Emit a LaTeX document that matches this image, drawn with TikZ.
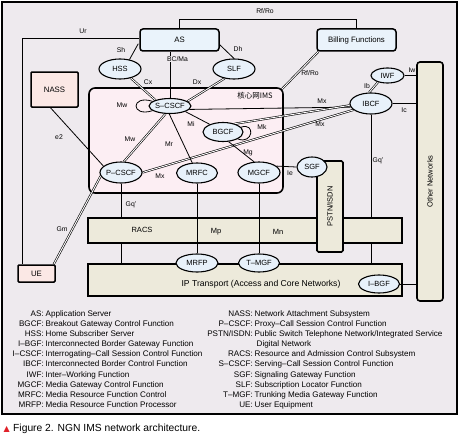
\documentclass[tikz,border=0pt]{standalone}
\usepackage{fontspec}
\setmainfont{Liberation Sans}
\newfontfamily\cjkfont{Noto Sans CJK SC}
\newfontfamily\dejavufont{DejaVu Sans}
\usetikzlibrary{shapes.geometric,calc}
\pgfdeclarelayer{bglayer}
\pgfdeclarelayer{edgelayer}
\pgfsetlayers{bglayer,edgelayer,main}
\definecolor{framebg}{HTML}{EEEAEE}
\definecolor{corefill}{HTML}{FCEEF3}
\definecolor{ellfill}{HTML}{E8F1FA}
\definecolor{bluebox}{HTML}{EAF3FB}
\definecolor{pinkbox}{HTML}{FBE8E5}
\definecolor{beige}{HTML}{EDEADB}
\definecolor{capred}{HTML}{E02028}
\newcommand\lgrow[5]{%
  \node[legt, anchor=base east] (#1k) at (#2,#3) {#4:};
  \node[legt, anchor=base west] (#1d) at (#2+1.5,#3) {#5};}
\begin{document}
\begin{tikzpicture}[x=1pt,y=-1pt,
  ell/.style={ellipse, draw, line width=1.1pt, fill=ellfill, inner sep=0pt, font=\fontsize{7.5}{8}\selectfont},
  rbox/.style={draw, line width=1.5pt, rounded corners=3pt, inner sep=0pt, font=\fontsize{7.8}{9}\selectfont},
  bar/.style={draw, line width=1.6pt, fill=beige, inner sep=0pt, font=\fontsize{7.5}{9}\selectfont},
  lbl/.style={font=\fontsize{6.8}{7}\selectfont, inner sep=0.5pt},
  conn/.style={line width=0.8pt},
  dbl/.style={double=white, double distance=0.9pt, line width=0.6pt},
  legt/.style={font=\fontsize{8.1}{9}\selectfont, inner sep=0pt}]
\useasboundingbox (0,0) rectangle (460,436);

\begin{pgfonlayer}{bglayer}
  \node[draw, line width=2pt, fill=framebg, minimum width=455pt, minimum height=412pt, inner sep=0pt] (frame) at (229.5,208) {};
  \node[draw, line width=1.6pt, rounded corners=6pt, fill=corefill, minimum width=194pt, minimum height=105pt, inner sep=0pt] (core) at (186,140.5) {};
  \node[bar, minimum width=314pt, minimum height=25pt] (RACS) at (245,230.5) {};
  \node[bar, rounded corners=1.5pt, rotate=90, minimum width=91pt, minimum height=26pt] (PSTN) at (330,206.5) {PSTN/ISDN};
  \node[bar, minimum width=314pt, minimum height=32pt] (IP) at (245,280) {};
  \node[bar, rounded corners=3pt, rotate=90, minimum width=239pt, minimum height=26pt] (Other) at (430,181.5) {Other Networks};
\end{pgfonlayer}

% main nodes
\node[rbox, fill=bluebox, minimum width=79pt, minimum height=22pt] (AS) at (179.5,40) {AS};
\node[rbox, fill=bluebox, minimum width=79pt, minimum height=22pt] (Bill) at (356.5,40) {Billing Functions};
\node[rbox, rounded corners=1pt, fill=pinkbox, minimum width=47pt, minimum height=35pt] (NASS) at (54.5,89.5) {NASS};
\node[rbox, rounded corners=1pt, fill=pinkbox, minimum width=37pt, minimum height=17pt] (UE) at (36.5,273.5) {UE};
\node[ell, minimum width=42pt, minimum height=20pt] (HSS) at (120,69) {HSS};
\node[ell, minimum width=42pt, minimum height=20pt] (SLF) at (234,69) {SLF};
\node[ell, minimum width=41pt, minimum height=15pt] (SC) at (170,106) {S--CSCF};
\node[ell, minimum width=40pt, minimum height=19pt] (BGCF) at (223,132) {BGCF};
\node[ell, minimum width=42pt, minimum height=21pt] (IBCF) at (371,103.5) {IBCF};
\node[ell, minimum width=33pt, minimum height=15pt] (IWF) at (387.5,75.5) {IWF};
\node[ell, minimum width=42pt, minimum height=21pt] (PC) at (121,172.5) {P--CSCF};
\node[ell, minimum width=41pt, minimum height=20pt] (MRFC) at (197,173) {MRFC};
\node[ell, minimum width=42pt, minimum height=21pt] (MGCF) at (259,172.5) {MGCF};
\node[ell, minimum width=30pt, minimum height=20pt] (SGF) at (312,167) {SGF};
\node[ell, minimum width=42pt, minimum height=18pt] (MRFP) at (197,263) {MRFP};
\node[ell, minimum width=41pt, minimum height=18pt] (TMGF) at (259,263) {T--MGF};
\node[ell, minimum width=41pt, minimum height=18pt] (IBGF) at (379,284) {I--BGF};

% texts in regions
\node[font=\cjkfont\fontsize{7.5}{8}\selectfont, inner sep=0pt] (coretxt) at (255,95.5) {核心网IMS};
\node[lbl, font=\fontsize{7.5}{8}\selectfont] (racstxt) at (142,230) {RACS};
\node[font=\fontsize{8.6}{9}\selectfont, inner sep=0pt] (iptxt) at (261,284) {IP Transport (Access and Core Networks)};

% connectors
\begin{pgfonlayer}{edgelayer}
  \coordinate (rfy) at (0,19);
  \draw[conn] (AS.north) -- (AS.north |- rfy) -- (Bill.north |- rfy) -- (Bill.north);
  \draw[conn] ($(AS.west)+(0,-2)$) -| ($(UE.north west)+(5,0)$);
  \draw[conn] ($(AS.south west)+(-1,-8)$) -- (HSS.45);
  \draw[conn] ($(AS.south east)+(0,-7)$) -- (SLF.north);
  \draw[conn] (SC.north) -- (SC.north |- AS.south);
  \draw[dbl] (HSS.-40) -- (SC.158);
  \draw[dbl] (SLF.225) -- (SC.15);
  \draw[dbl] ($(Bill.south west)+(2,0)$) -- ($(core.north east)+(-2,2)$);
  \draw[conn] (SC.165) .. controls +(-22,-7) and +(-22,7) .. (SC.195);
  \draw[conn] (SC.-10) -- (IBCF.190);
  \draw[dbl] (BGCF.35) -- (IBCF.185);
  \draw[dbl] (PC.east) -- (IBCF.200);
  \draw[conn] (SC.-20) -- (BGCF.150);
  \draw[conn] (SC.-95) -- (MRFC.115);
  \draw[dbl] (SC.-120) -- (PC.75);
  \draw[conn] (BGCF.15) .. controls +(15,-5) and +(15,6) .. (BGCF.-25);
  \draw[conn] (BGCF.-60) -- (MGCF.115);
  \draw[conn] (MGCF.20) -- (SGF.west);
  \draw[dbl] (IWF.-145) -- (IBCF.100);
  \draw[conn] (IWF.east) -- (IWF.east -| Other.north);
  \draw[conn] (IBCF.east) -- (IBCF.east -| Other.north);
  \draw[conn] (IBCF.south) -- (IBCF.south |- RACS.north);
  \draw[conn] (IBCF.south |- RACS.south) -- (IBCF.south |- IP.north);
  \draw[conn] (PC.south) -- (PC.south |- RACS.north);
  \draw[conn] (PC.south |- RACS.south) -- (PC.south |- IP.north);
  \draw[conn] (MRFC.south) -- (MRFP.north);
  \draw[conn] (MGCF.south) -- (TMGF.north);
  \draw[conn] (IBGF.east) -- (IBGF.east -| Other.north);
  \draw[dbl] ($(UE.north east)+(-2,0)$) -- (PC.190);
  \draw[conn] ($(NASS.south)+(-4,0)$) -- (PC.160);
\end{pgfonlayer}

% connector labels
\node[lbl] (lUr) at (83,31) {Ur};
\node[lbl] (lRf1) at (265,11) {Rf/Ro};
\node[lbl] (lSh) at (121,50) {Sh};
\node[lbl, fill=framebg] (lBC) at (177.5,59) {BC/Ma};
\node[lbl] (lDh) at (238,49) {Dh};
\node[lbl] (lCx) at (148,82) {Cx};
\node[lbl] (lDx) at (197,82) {Dx};
\node[lbl] (lMw1) at (122,105) {Mw};
\node[lbl] (lRf2) at (310,73) {Rf/Ro};
\node[lbl] (lMx1) at (322,101) {Mx};
\node[lbl] (lMx2) at (320,124) {Mx};
\node[lbl] (lIb) at (367,86) {Ib};
\node[lbl] (lIw) at (412,70) {Iw};
\node[lbl] (lIc) at (404,110) {Ic};
\node[lbl] (lMi) at (191,124) {Mi};
\node[lbl] (lMk) at (262,127) {Mk};
\node[lbl] (lMw2) at (130,139) {Mw};
\node[lbl] (lMr) at (169,144) {Mr};
\node[lbl] (le2) at (59,137) {e2};
\node[lbl] (lMx3) at (160,176) {Mx};
\node[lbl] (lMg) at (248,153) {Mg};
\node[lbl] (lIe) at (290,173) {Ie};
\node[lbl] (lGq1) at (131,205) {Gq'};
\node[lbl] (lGq2) at (378,161) {Gq'};
\node[lbl] (lGm) at (62,229) {Gm};
\node[lbl, font=\fontsize{7.5}{8}\selectfont] (lMp) at (216,232) {Mp};
\node[lbl, font=\fontsize{7.5}{8}\selectfont] (lMn) at (278,232) {Mn};

% legend
\lgrow{a1}{44}{316}{AS}{Application Server}
\lgrow{a2}{44}{326}{BGCF}{Breakout Gateway Control Function}
\lgrow{a3}{44}{336}{HSS}{Home Subscriber Server}
\lgrow{a4}{44}{346}{I--BGF}{Interconnected Border Gateway Function}
\lgrow{a5}{44}{356}{I--CSCF}{Interrogating--Call Session Control Function}
\lgrow{a6}{44}{366.5}{IBCF}{Interconnected Border Control Function}
\lgrow{a7}{44}{377}{IWF}{Inter--Working Function}
\lgrow{a8}{44}{387}{MGCF}{Media Gateway Control Function}
\lgrow{a9}{44}{397}{MRFC}{Media Resource Function Control}
\lgrow{a10}{44}{407}{MRFP}{Media Resource Function Processor}
\lgrow{b1}{253}{316}{NASS}{Network Attachment Subsystem}
\lgrow{b2}{253}{326}{P--CSCF}{Proxy--Call Session Control Function}
\lgrow{b3}{253}{336}{PSTN/ISDN}{Public Switch Telephone Network/Integrated Service}
\node[legt, anchor=base west] (b3c) at (256.5,346) {Digital Network};
\lgrow{b4}{253}{356}{RACS}{Resource and Admission Control Subsystem}
\lgrow{b5}{253}{366.5}{S--CSCF}{Serving--Call Session Control Function}
\lgrow{b6}{253}{377}{SGF}{Signaling Gateway Function}
\lgrow{b7}{253}{387}{SLF}{Subscription Locator Function}
\lgrow{b8}{253}{397}{T--MGF}{Trunking Media Gateway Function}
\lgrow{b9}{253}{407}{UE}{User Equipment}

% caption
\node[anchor=base west, inner sep=0pt, text=capred, font=\dejavufont\fontsize{8}{9}\selectfont] (tri) at (3.5,431) {▲};
\node[anchor=base west, inner sep=0pt, font=\fontsize{10.3}{12}\selectfont] (cap) at (13,431) {Figure 2. NGN IMS network architecture.};
\end{tikzpicture}
\end{document}
